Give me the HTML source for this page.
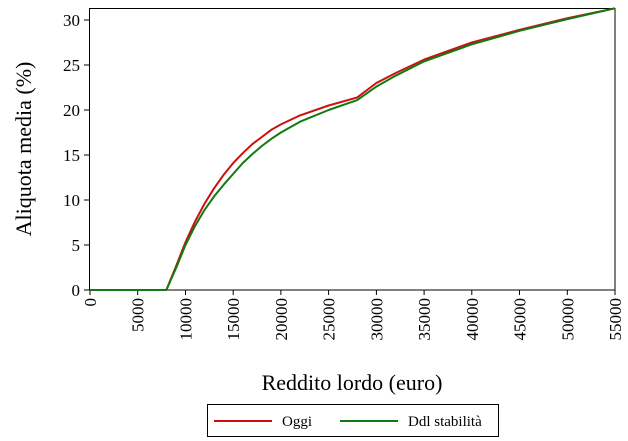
<!DOCTYPE html>
<html><head><style>body{margin:0;background:#fff}svg{display:block}</style></head>
<body>
<svg width="628" height="441" xmlns="http://www.w3.org/2000/svg" font-family="Liberation Serif, serif">
<rect width="628" height="441" fill="#fff"/>
<rect x="89.5" y="8.5" width="525.5" height="281.5" fill="none" stroke="#000" stroke-width="1"/>
<g stroke="#000">
<line x1="84" y1="290" x2="89" y2="290"/><line x1="84" y1="245" x2="89" y2="245"/><line x1="84" y1="200" x2="89" y2="200"/><line x1="84" y1="155" x2="89" y2="155"/><line x1="84" y1="110" x2="89" y2="110"/><line x1="84" y1="65" x2="89" y2="65"/><line x1="84" y1="20" x2="89" y2="20"/>
<line x1="90" y1="290" x2="90" y2="295"/><line x1="137.7" y1="290" x2="137.7" y2="295"/><line x1="185.5" y1="290" x2="185.5" y2="295"/><line x1="233.2" y1="290" x2="233.2" y2="295"/><line x1="280.9" y1="290" x2="280.9" y2="295"/><line x1="328.6" y1="290" x2="328.6" y2="295"/><line x1="376.4" y1="290" x2="376.4" y2="295"/><line x1="424.1" y1="290" x2="424.1" y2="295"/><line x1="471.8" y1="290" x2="471.8" y2="295"/><line x1="519.5" y1="290" x2="519.5" y2="295"/><line x1="567.3" y1="290" x2="567.3" y2="295"/><line x1="615" y1="290" x2="615" y2="295"/>
</g>
<g font-size="17" text-anchor="end" fill="#000">
<text x="80" y="296">0</text><text x="80" y="251">5</text><text x="80" y="206">10</text><text x="80" y="161">15</text><text x="80" y="116">20</text><text x="80" y="71">25</text><text x="80" y="26">30</text>
</g>
<g font-size="17" text-anchor="end" fill="#000">
<text transform="translate(96,298) rotate(-90)">0</text>
<text transform="translate(143.7,298) rotate(-90)">5000</text>
<text transform="translate(191.5,298) rotate(-90)">10000</text>
<text transform="translate(239.2,298) rotate(-90)">15000</text>
<text transform="translate(286.9,298) rotate(-90)">20000</text>
<text transform="translate(334.6,298) rotate(-90)">25000</text>
<text transform="translate(382.4,298) rotate(-90)">30000</text>
<text transform="translate(430.1,298) rotate(-90)">35000</text>
<text transform="translate(477.8,298) rotate(-90)">40000</text>
<text transform="translate(525.5,298) rotate(-90)">45000</text>
<text transform="translate(573.3,298) rotate(-90)">50000</text>
<text transform="translate(621,298) rotate(-90)">55000</text>
</g>
<text x="352" y="390" font-size="22" text-anchor="middle">Reddito lordo (euro)</text>
<text transform="translate(31,149) rotate(-90)" font-size="22" text-anchor="middle">Aliquota media (%)</text>
<g transform="translate(90,290) scale(0.0095455,-9)" fill="none" stroke-width="2" stroke-linejoin="round">
<polyline vector-effect="non-scaling-stroke" stroke="#cc1010" points="0,0 8000,0 9000,2.6 10000,5.3 11000,7.6 12000,9.6 13000,11.3 14000,12.8 15000,14.1 16000,15.2 17000,16.2 18000,17.0 19000,17.8 20000,18.4 22000,19.4 25000,20.5 28000,21.4 30000,23.0 32000,24.1 35000,25.6 40000,27.5 45000,28.9 50000,30.2 55000,31.3"/>
<polyline vector-effect="non-scaling-stroke" stroke="#107a10" points="0,0 8000,0 9000,2.4 10000,5.0 11000,7.1 12000,8.9 13000,10.4 14000,11.7 15000,12.9 16000,14.1 17000,15.1 18000,16.0 19000,16.8 20000,17.5 22000,18.7 25000,20.0 28000,21.1 30000,22.6 32000,23.8 35000,25.4 40000,27.3 45000,28.8 50000,30.1 55000,31.3"/>
</g>
<rect x="207.5" y="404.5" width="291" height="32" fill="#fff" stroke="#000"/>
<line x1="214" y1="421" x2="272" y2="421" stroke="#cc1010" stroke-width="2"/>
<text x="282" y="426" font-size="15">Oggi</text>
<line x1="340" y1="421" x2="398" y2="421" stroke="#107a10" stroke-width="2"/>
<text x="408" y="426" font-size="15">Ddl stabilità</text>
</svg>
</body></html>
